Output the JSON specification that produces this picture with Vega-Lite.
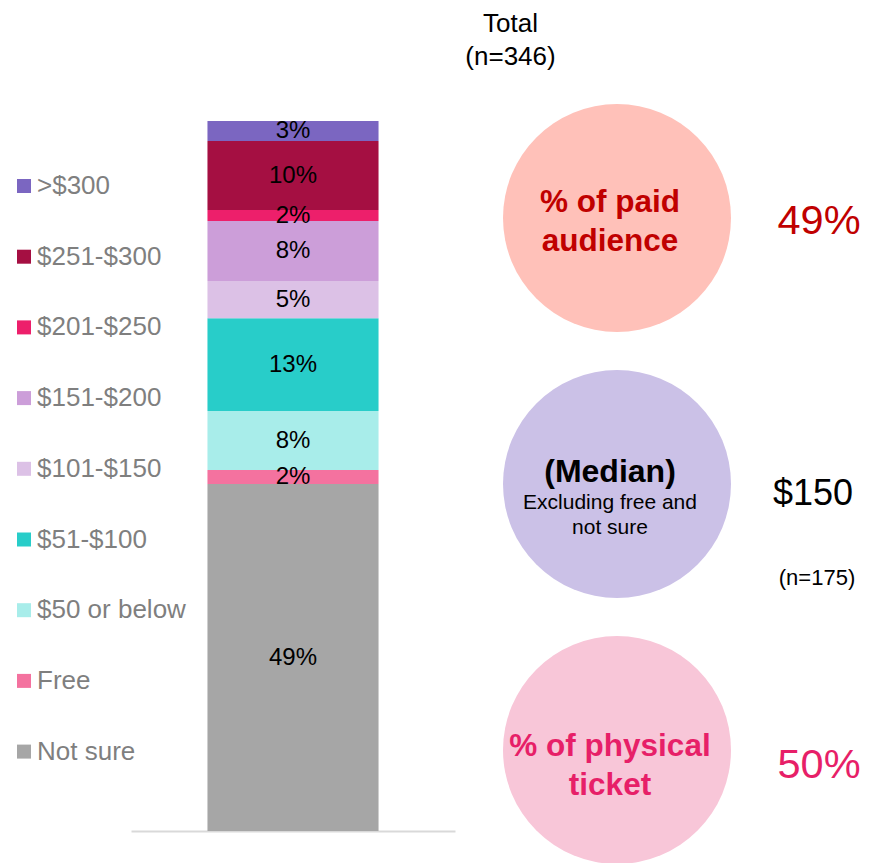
{
  "$schema": "https://vega.github.io/schema/vega-lite/v6.json",
  "width": 869,
  "height": 751,
  "autosize": "none",
  "padding": {"left": 0, "right": 0, "top": 80, "bottom": 32},
  "background": "white",
  "config": {
    "font": "Liberation Sans",
    "view": {"stroke": null},
    "legend": {"padding": 0}
  },
  "title": {
    "text": ["Total", "(n=346)"],
    "fontSize": 26,
    "fontWeight": "normal",
    "color": "#000000",
    "anchor": "middle",
    "lineHeight": 33,
    "dx": 76,
    "offset": 10
  },
  "layer": [
    {
      "data": {
        "values": [
          {"group": "Total", "band": "Not sure", "pct": 48.87, "label": "49%", "order": 1},
          {"group": "Total", "band": "Free", "pct": 1.97, "label": "2%", "order": 2},
          {"group": "Total", "band": "$50 or below", "pct": 8.31, "label": "8%", "order": 3},
          {"group": "Total", "band": "$51-$100", "pct": 13.06, "label": "13%", "order": 4},
          {"group": "Total", "band": "$101-$150", "pct": 5.25, "label": "5%", "order": 5},
          {"group": "Total", "band": "$151-$200", "pct": 8.45, "label": "8%", "order": 6},
          {"group": "Total", "band": "$201-$250", "pct": 1.55, "label": "2%", "order": 7},
          {"group": "Total", "band": "$251-$300", "pct": 9.72, "label": "10%", "order": 8},
          {"group": "Total", "band": ">$300", "pct": 2.82, "label": "3%", "order": 9}
        ]
      },
      "layer": [
        {
          "mark": {"type": "bar", "width": {"band": 0.528}},
          "encoding": {
            "x": {
              "field": "group", "type": "nominal",
              "scale": {"range": [131, 455], "paddingInner": 0, "paddingOuter": 0},
              "axis": {"domain": true, "domainColor": "#d9d9d9", "domainWidth": 2, "ticks": false, "labels": false, "title": null, "grid": false}
            },
            "y": {
              "field": "pct", "type": "quantitative", "stack": "zero",
              "scale": {"domain": [0, 100], "range": [751, 41], "nice": false, "zero": false},
              "axis": null
            },
            "color": {
              "field": "band", "type": "nominal",
              "scale": {
                "domain": [">$300", "$251-$300", "$201-$250", "$151-$200", "$101-$150", "$51-$100", "$50 or below", "Free", "Not sure"],
                "range": ["#7b66c1", "#a50f42", "#ed1f6b", "#cc9ed9", "#dcc1e6", "#28cdc9", "#a8edea", "#f4729f", "#a6a6a6"]
              },
              "legend": {
                "orient": "none",
                "legendX": 11,
                "legendY": 93,
                "title": null,
                "symbolType": "square",
                "symbolSize": 196,
                "symbolStrokeWidth": 0,
                "symbolOpacity": 1,
                "labelFontSize": 26,
                "labelColor": "#7f7f7f",
                "labelOffset": 0,
                "rowPadding": 44.7
              }
            },
            "order": {"field": "order", "type": "quantitative", "sort": "ascending"}
          }
        },
        {
          "mark": {"type": "text", "fontSize": 24, "color": "#000000", "baseline": "middle"},
          "encoding": {
            "x": {"field": "group", "type": "nominal"},
            "y": {"field": "pct", "type": "quantitative", "stack": "zero", "bandPosition": 0.5},
            "detail": {"field": "band", "type": "nominal"},
            "text": {"field": "label", "type": "nominal"},
            "order": {"field": "order", "type": "quantitative", "sort": "ascending"}
          }
        }
      ]
    },
    {
      "data": {
        "values": [
          {"metric": "paid", "title": ["% of paid", "audience"], "value": "49%"},
          {"metric": "median", "title": ["(Median)"], "sub": ["Excluding free and", "not sure"], "value": "$150", "note": "(n=175)"},
          {"metric": "physical", "title": ["% of physical", "ticket"], "value": "50%"}
        ]
      },
      "encoding": {
        "x": {"datum": "circle", "type": "nominal", "scale": {"type": "point", "domain": ["circle", "value"], "range": [610, 819], "padding": 0}, "axis": null}
      },
      "layer": [
        {
          "mark": {"type": "point", "shape": "circle", "filled": true, "opacity": 1, "size": 51984, "xOffset": 7},
          "encoding": {
            "y": {"field": "metric", "type": "nominal", "scale": {"type": "point", "domain": ["paid", "median", "physical"], "range": [138, 670], "padding": 0}, "axis": null},
            "fill": {"field": "metric", "type": "nominal", "scale": {"domain": ["paid", "median", "physical"], "range": ["#ffc1b9", "#cbc1e7", "#f8c6d8"]}, "legend": null}
          }
        },
        {
          "transform": [{"filter": "datum.metric !== 'median'"}],
          "mark": {"type": "text", "fontSize": 31.5, "fontWeight": "bold", "lineHeight": 39, "baseline": "middle", "dy": -19.5},
          "encoding": {
            "y": {"field": "metric", "type": "nominal", "scale": {"type": "point", "domain": ["paid", "median", "physical"], "range": [142, 686], "padding": 0}, "axis": null},
            "text": {"field": "title"},
            "color": {"field": "metric", "type": "nominal", "scale": {"domain": ["paid", "median", "physical"], "range": ["#c00000", "#000000", "#e71f68"]}, "legend": null}
          }
        },
        {
          "transform": [{"filter": "datum.metric === 'median'"}],
          "mark": {"type": "text", "fontSize": 32, "fontWeight": "bold", "baseline": "middle", "color": "#000000", "dy": -22},
          "encoding": {
            "y": {"field": "metric", "type": "nominal", "scale": {"type": "point", "domain": ["paid", "median", "physical"], "range": [142, 686], "padding": 0}, "axis": null},
            "text": {"field": "title"}
          }
        },
        {
          "transform": [{"filter": "datum.metric === 'median'"}],
          "mark": {"type": "text", "fontSize": 21, "lineHeight": 25, "baseline": "middle", "color": "#000000", "dy": 9},
          "encoding": {
            "y": {"field": "metric", "type": "nominal", "scale": {"type": "point", "domain": ["paid", "median", "physical"], "range": [142, 686], "padding": 0}, "axis": null},
            "text": {"field": "sub"}
          }
        },
        {
          "transform": [{"filter": "datum.metric !== 'median'"}],
          "mark": {"type": "text", "fontSize": 41.5, "baseline": "middle"},
          "encoding": {
            "x": {"datum": "value", "type": "nominal"},
            "y": {"field": "metric", "type": "nominal", "scale": {"type": "point", "domain": ["paid", "median", "physical"], "range": [142, 686], "padding": 0}, "axis": null},
            "text": {"field": "value"},
            "color": {"field": "metric", "type": "nominal", "scale": {"domain": ["paid", "median", "physical"], "range": ["#c00000", "#000000", "#e71f68"]}, "legend": null}
          }
        },
        {
          "transform": [{"filter": "datum.metric === 'median'"}],
          "mark": {"type": "text", "fontSize": 36, "baseline": "middle", "color": "#000000", "dx": -6},
          "encoding": {
            "x": {"datum": "value", "type": "nominal"},
            "y": {"field": "metric", "type": "nominal", "scale": {"type": "point", "domain": ["paid", "median", "physical"], "range": [142, 686], "padding": 0}, "axis": null},
            "text": {"field": "value"}
          }
        },
        {
          "transform": [{"filter": "datum.metric === 'median'"}],
          "mark": {"type": "text", "fontSize": 22, "baseline": "middle", "color": "#000000", "dy": 84, "dx": -2},
          "encoding": {
            "x": {"datum": "value", "type": "nominal"},
            "y": {"field": "metric", "type": "nominal", "scale": {"type": "point", "domain": ["paid", "median", "physical"], "range": [142, 686], "padding": 0}, "axis": null},
            "text": {"field": "note"}
          }
        }
      ],
      "resolve": {"scale": {"y": "independent"}}
    }
  ],
  "resolve": {"scale": {"x": "independent", "y": "independent", "color": "independent"}}
}
